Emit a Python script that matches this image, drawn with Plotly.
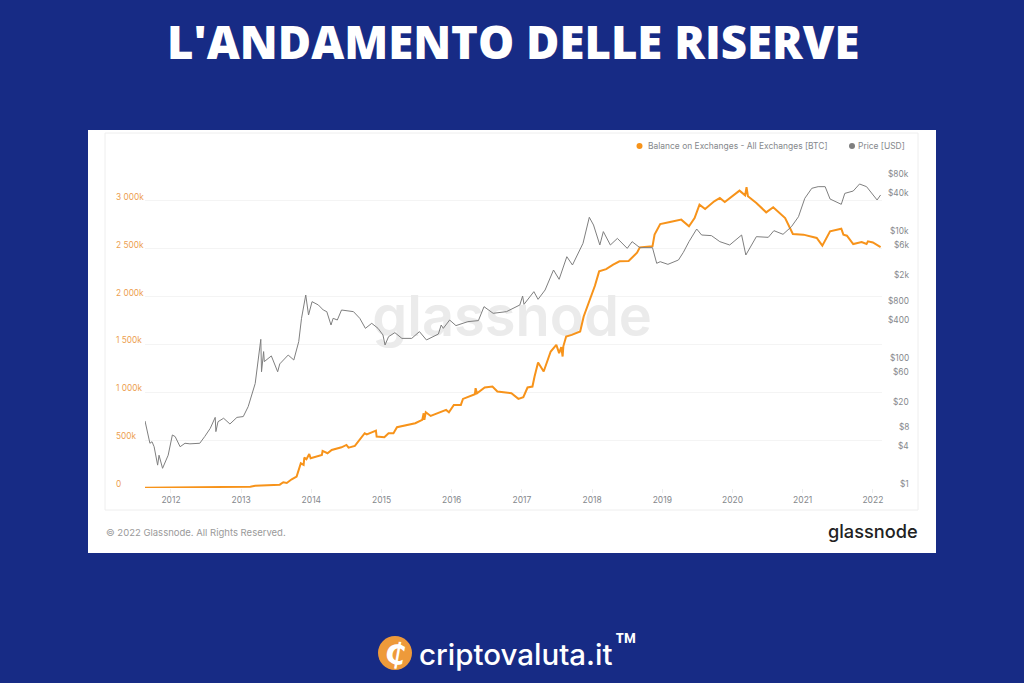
import math
import plotly.graph_objects as go

W, H = 1024, 683

balance_years = [
    2011.63, 2013.00, 2013.13, 2013.20, 2013.36, 2013.55, 2013.60, 2013.65, 2013.72, 2013.79,
    2013.85, 2013.89, 2013.90, 2013.93, 2013.97, 2013.99, 2014.15, 2014.16, 2014.23, 2014.29,
    2014.43, 2014.50, 2014.53, 2014.62, 2014.76, 2014.79, 2014.92, 2014.93, 2015.04, 2015.10,
    2015.17, 2015.22, 2015.48, 2015.58, 2015.60, 2015.61, 2015.63, 2015.70, 2015.92, 2015.96,
    2016.03, 2016.13, 2016.16, 2016.33, 2016.34, 2016.36, 2016.47, 2016.58, 2016.65, 2016.85,
    2016.95, 2017.02, 2017.08, 2017.15, 2017.18, 2017.23, 2017.31, 2017.41, 2017.49, 2017.53,
    2017.56, 2017.58, 2017.59, 2017.63, 2017.71, 2017.83, 2017.88, 2017.98, 2018.04, 2018.10,
    2018.20, 2018.30, 2018.39, 2018.52, 2018.64, 2018.68, 2018.86, 2018.89, 2018.97, 2019.11,
    2019.27, 2019.38, 2019.46, 2019.53, 2019.61, 2019.74, 2019.82, 2019.89, 2020.10, 2020.18,
    2020.20, 2020.22, 2020.34, 2020.48, 2020.58, 2020.75, 2020.86, 2021.01, 2021.20, 2021.28,
    2021.39, 2021.55, 2021.58, 2021.63, 2021.72, 2021.84, 2021.91, 2021.93, 2022.00, 2022.11,
]
balance_k = [
    3, 7, 14, 24, 30, 35, 60, 52, 91, 119,
    258, 241, 317, 300, 356, 310, 345, 387, 363, 398,
    425, 450, 422, 439, 572, 560, 600, 537, 530, 573,
    573, 635, 677, 712, 781, 712, 792, 753, 816, 792,
    868, 868, 931, 980, 1043, 990, 1050, 1060, 1008, 990,
    931, 948, 1050, 1060, 1165, 1311, 1217, 1426, 1496, 1409,
    1472, 1374, 1480, 1583, 1600, 1635, 1792, 1995, 2113, 2263,
    2287, 2333, 2368, 2372, 2458, 2514, 2525, 2647, 2758, 2779,
    2804, 2734, 2821, 2960, 2915, 2995, 3030, 2988, 3107, 3058,
    3142, 3048, 2978, 2880, 2933, 2821, 2654, 2647, 2612, 2532,
    2682, 2709, 2647, 2636, 2549, 2570, 2549, 2577, 2566, 2517,
]

price_years = [
    2011.63, 2011.68, 2011.70, 2011.73, 2011.76, 2011.81, 2011.83, 2011.88, 2011.96, 2012.02,
    2012.06, 2012.13, 2012.20, 2012.27, 2012.41, 2012.48, 2012.56, 2012.63, 2012.64, 2012.67,
    2012.75, 2012.84, 2012.94, 2013.03, 2013.10, 2013.20, 2013.23, 2013.28, 2013.29, 2013.32,
    2013.33, 2013.40, 2013.43, 2013.52, 2013.55, 2013.67, 2013.75, 2013.82, 2013.86, 2013.92,
    2013.96, 2014.01, 2014.10, 2014.17, 2014.22, 2014.28, 2014.31, 2014.37, 2014.43, 2014.60,
    2014.69, 2014.77, 2014.86, 2014.95, 2015.02, 2015.05, 2015.10, 2015.19, 2015.29, 2015.43,
    2015.54, 2015.64, 2015.81, 2015.85, 2015.88, 2015.97, 2016.06, 2016.23, 2016.38, 2016.46,
    2016.59, 2016.78, 2016.97, 2017.01, 2017.03, 2017.17, 2017.23, 2017.33, 2017.45, 2017.53,
    2017.64, 2017.72, 2017.87, 2017.96, 2018.02, 2018.11, 2018.16, 2018.26, 2018.36, 2018.50,
    2018.57, 2018.68, 2018.86, 2018.92, 2018.97, 2019.08, 2019.23, 2019.30, 2019.38, 2019.49,
    2019.56, 2019.70, 2019.82, 2019.96, 2020.13, 2020.19, 2020.27, 2020.34, 2020.51, 2020.59,
    2020.72, 2020.84, 2020.94, 2021.03, 2021.13, 2021.22, 2021.32, 2021.39, 2021.55, 2021.60,
    2021.72, 2021.81, 2021.91, 2022.06, 2022.11,
]
price_usd = [
    11.5, 6.5, 5.1, 5.4, 4.5, 2.3, 3.3, 2.05, 3.3, 6.9,
    6.5, 4.5, 5.1, 5, 5.1, 6.5, 8.8, 13.1, 7.8, 11.2,
    12.7, 10.3, 13.1, 13.5, 19.4, 45, 78, 225, 69, 144,
    100, 113, 123, 69, 92, 127, 106, 207, 484, 1132,
    546, 888, 787, 655, 617, 379, 484, 455, 655, 617,
    484, 336, 403, 336, 264, 183, 248, 287, 233, 233,
    298, 220, 273, 379, 336, 455, 371, 429, 445, 740,
    581, 617, 787, 1091, 805, 1279, 967, 1358, 2813, 2004,
    4570, 3376, 7430, 19200, 14500, 7000, 11400, 7000, 8900, 6190,
    7900, 6350, 6350, 3590, 3810, 3460, 4050, 5360, 7900, 12530,
    10070, 9840, 7900, 7000, 10070, 4860, 7000, 9480, 9250, 11800,
    10330, 13650, 19600, 38300, 55200, 58600, 58600, 37400, 30800, 45900,
    50000, 64600, 58600, 36100, 43300,
]

year_ticks = list(range(2012, 2023))
balance_ticks = [0, 500, 1000, 1500, 2000, 2500, 3000]
balance_labels = ["0", "500k", "1 000k", "1 500k", "2 000k", "2 500k", "3 000k"]
price_ticks = [1, 4, 8, 20, 60, 100, 400, 800, 2000, 6000, 10000, 40000, 80000]
price_labels = ["$1", "$4", "$8", "$20", "$60", "$100", "$400", "$800", "$2k", "$6k", "$10k", "$40k", "$80k"]

ORANGE = "#f7931a"
GREY = "#7f7f7f"
LABEL_GREY = "#85888c"
FONT = "Inter"


def px(x):
    return x / W


def py(y):
    return 1 - y / H


def text(x, y, s, size, color, anchor="left", family=FONT, weight=400, angle=0):
    return dict(
        x=px(x), y=py(y), xref="paper", yref="paper", text=s, showarrow=False, textangle=angle,
        xanchor=anchor, yanchor="middle", font=dict(size=size, color=color, family=family, weight=weight)
    )


fig = go.Figure()

# watermark sits behind the lines, so it is a text trace and not an annotation
fig.add_trace(go.Scatter(
    x=[2016.86], y=[1735], mode="text", text=["glassnode"],
    textfont=dict(size=56, color="#ebebeb", family=FONT, weight=600),
    hoverinfo="skip", showlegend=False
))
fig.add_trace(go.Scatter(
    x=balance_years, y=balance_k, mode="lines", name="Balance on Exchanges - All Exchanges [BTC]",
    line=dict(color=ORANGE, width=2), showlegend=False
))
fig.add_trace(go.Scatter(
    x=price_years, y=price_usd, mode="lines", name="Price [USD]", yaxis="y2",
    line=dict(color=GREY, width=1), showlegend=False
))

annotations = [
    text(512.5, 41, "L'ANDAMENTO DELLE RISERVE", 45.5, "white", "center", "Open Sans", 800),
    text(646, 146, "Balance on Exchanges - All Exchanges [BTC]", 8.45, LABEL_GREY),
    text(856, 146, "Price [USD]", 8.45, LABEL_GREY),
    text(104, 532, "© 2022 Glassnode. All Rights Reserved.", 9.5, "#9a9a9a"),
    text(920, 531, "glassnode", 18.2, "#222222", "right", FONT, 500),
    text(417, 654, "criptovaluta.it", 29.5, "white", "left", FONT, 500),
    text(611.5, 647, "™", 38, "white", "left", "Roboto", 500),
    text(395, 653, "₵", 30, "white", "center", "DejaVu Sans", 700, 10),
]

# tick labels in the original sit a few pixels above their gridlines
for v, label in zip(balance_ticks, balance_labels):
    annotations.append(dict(
        x=px(114), y=v, xref="paper", yref="y", yshift=4, text=label, showarrow=False,
        xanchor="left", font=dict(size=8.3, color="#eda050", family=FONT)
    ))
for v, label in zip(price_ticks, price_labels):
    annotations.append(dict(
        x=px(911), y=math.log10(v), xref="paper", yref="y2", yshift=4, text=label, showarrow=False,
        xanchor="right", font=dict(size=8.3, color=LABEL_GREY, family=FONT)
    ))


def rect(x0, y0, x1, y1, **kw):
    return dict(type="rect", xref="paper", yref="paper", x0=px(x0), y0=py(y0), x1=px(x1), y1=py(y1), layer="below", **kw)


def circle(cx, cy, r, color):
    return dict(type="circle", xref="paper", yref="paper", x0=px(cx - r), x1=px(cx + r),
                y0=py(cy + r), y1=py(cy - r), fillcolor=color, line_width=0, layer="below")


fig.update_layout(
    width=W, height=H,
    margin=dict(l=0, r=0, t=0, b=0, autoexpand=False),
    paper_bgcolor="#172b85",
    plot_bgcolor="rgba(0,0,0,0)",
    showlegend=False,
    annotations=annotations,
    shapes=[
        rect(88, 130, 936, 553, fillcolor="white", line_width=0),
        rect(105, 133, 918, 510, fillcolor="white", line=dict(color="#eeeeee", width=1)),
        circle(639.5, 146, 3, ORANGE),
        circle(852, 146, 3, GREY),
        circle(395, 653, 17, "#ee9a3a"),
    ],
    xaxis=dict(
        domain=[px(145), px(882)], range=[2011.63, 2022.13],
        tickvals=year_ticks, ticktext=[str(y) for y in year_ticks],
        showgrid=False, zeroline=False, showline=False,
        ticks="outside", ticklen=4, tickcolor="#eeeeee",
        tickfont=dict(size=8.5, color=LABEL_GREY, family=FONT),
        anchor="y"
    ),
    yaxis=dict(
        domain=[py(488), py(153)], range=[0, 3500],
        tickvals=balance_ticks + [3500], showticklabels=False,
        showgrid=True, gridcolor="#f4f4f4", gridwidth=1, zeroline=False
    ),
    yaxis2=dict(
        domain=[py(488), py(153)], overlaying="y", side="right",
        type="log", range=[0, 335 / 63.2],
        showticklabels=False, showgrid=False, zeroline=False
    ),
)

fig.write_html("out.html", config={"displayModeBar": False}, post_script="document.body.style.margin='0';")
